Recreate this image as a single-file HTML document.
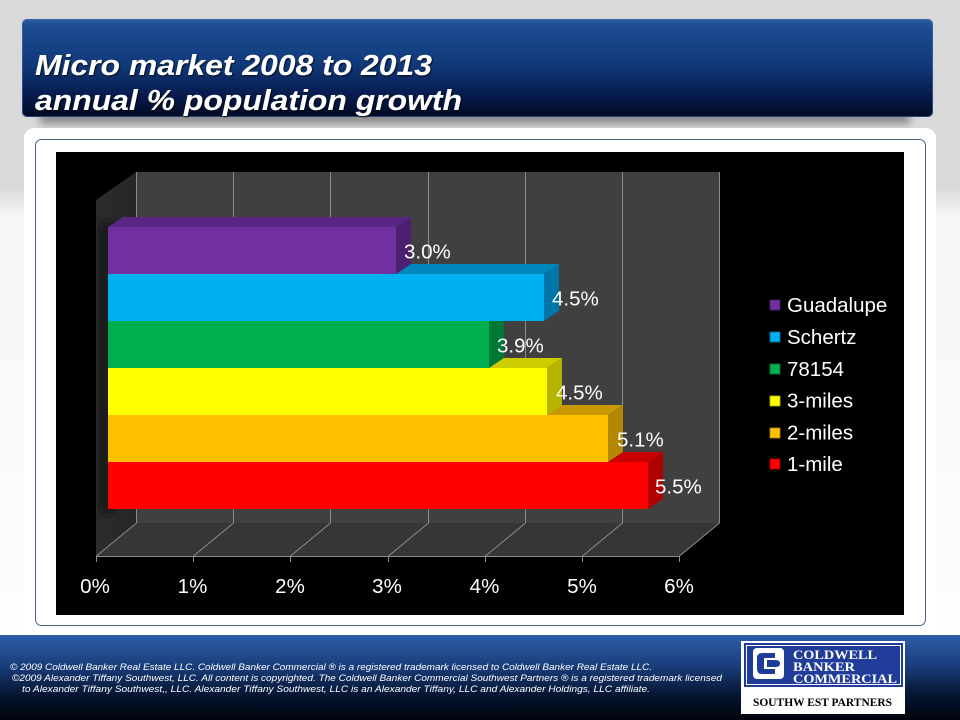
<!DOCTYPE html>
<html><head><meta charset="utf-8"><style>
html,body{margin:0;padding:0;width:960px;height:720px;overflow:hidden;background:#fff}
svg{display:block}
</style></head><body>
<svg width="960" height="720" viewBox="0 0 960 720" xmlns="http://www.w3.org/2000/svg" font-family="Liberation Sans, Arial, sans-serif">
<defs>
<linearGradient id="bg" x1="0" y1="0" x2="0" y2="1">
<stop offset="0" stop-color="#d9d9d9"/><stop offset="0.26" stop-color="#d9d9d9"/><stop offset="0.30" stop-color="#f6f6f6"/><stop offset="1" stop-color="#ffffff"/>
</linearGradient>
<linearGradient id="hdr" x1="0" y1="0" x2="0" y2="1">
<stop offset="0" stop-color="#2c5ea5"/><stop offset="0.08" stop-color="#1d4c92"/><stop offset="0.45" stop-color="#113a7a"/><stop offset="0.8" stop-color="#06194a"/><stop offset="1" stop-color="#020a22"/>
</linearGradient>
<linearGradient id="ftr" x1="0" y1="0" x2="0" y2="1">
<stop offset="0" stop-color="#2d5eaa"/><stop offset="0.35" stop-color="#1a3f7e"/><stop offset="0.7" stop-color="#061634"/><stop offset="1" stop-color="#00030a"/>
</linearGradient>
<linearGradient id="side" x1="0" y1="0" x2="1" y2="0">
<stop offset="0" stop-color="#2c2c2c"/><stop offset="1" stop-color="#262626"/>
</linearGradient>
<filter id="blur" x="-10%" y="-50%" width="120%" height="200%"><feGaussianBlur stdDeviation="4"/></filter>
<filter id="blur2" x="-20%" y="-20%" width="140%" height="140%"><feGaussianBlur stdDeviation="3"/></filter>
<filter id="ts" x="-5%" y="-20%" width="110%" height="140%"><feDropShadow dx="1" dy="1" stdDeviation="0.8" flood-color="#000" flood-opacity="0.8"/></filter>
</defs>

<!-- background -->
<rect x="0" y="0" width="960" height="720" fill="url(#bg)"/>

<!-- header shadow -->
<rect x="40" y="108" width="870" height="16" fill="#7a7a7a" opacity="0.8" filter="url(#blur)"/>
<!-- header -->
<rect x="22" y="19" width="911" height="98" rx="5" fill="url(#hdr)"/>
<rect x="22.5" y="19.5" width="910" height="97" rx="5" fill="none" stroke="#3a6ab0" stroke-width="1" opacity="0.6"/>
<g filter="url(#ts)" fill="#ffffff" font-weight="bold" font-style="italic" font-size="29">
<text x="35" y="75" textLength="397" lengthAdjust="spacingAndGlyphs">Micro market 2008 to 2013</text>
<text x="35" y="110" textLength="427" lengthAdjust="spacingAndGlyphs">annual % population growth</text>
</g>

<!-- card -->
<rect x="24" y="128" width="912" height="508" rx="10" fill="#ffffff"/>
<rect x="35.5" y="139.5" width="890" height="486" rx="6" fill="none" stroke="#4a6288" stroke-width="1"/>

<!-- chart background -->
<rect x="56" y="152" width="848" height="463" fill="#000000"/>

<!-- back wall -->
<rect x="136" y="172" width="584" height="351" fill="#404040"/>
<!-- side wall -->
<polygon points="96,200 136,172 136,523 96,556" fill="url(#side)"/>
<!-- floor -->
<polygon points="96,556 136,523 720,523 680,556" fill="#363636"/>

<!-- gridlines back wall -->
<g stroke="#8c8c8c" stroke-width="1">
<line x1="136.5" y1="172" x2="136.5" y2="523"/>
<line x1="233.5" y1="172" x2="233.5" y2="523"/>
<line x1="330.5" y1="172" x2="330.5" y2="523"/>
<line x1="428.5" y1="172" x2="428.5" y2="523"/>
<line x1="525.5" y1="172" x2="525.5" y2="523"/>
<line x1="622.5" y1="172" x2="622.5" y2="523"/>
<line x1="719.5" y1="172" x2="719.5" y2="523"/>
<!-- floor lines -->
<line x1="136.5" y1="523" x2="96.5" y2="556"/>
<line x1="233.5" y1="523" x2="193.5" y2="556"/>
<line x1="330.5" y1="523" x2="290.5" y2="556"/>
<line x1="428.5" y1="523" x2="388.5" y2="556"/>
<line x1="525.5" y1="523" x2="485.5" y2="556"/>
<line x1="622.5" y1="523" x2="582.5" y2="556"/>
<line x1="719.5" y1="523" x2="679.5" y2="556"/>
<!-- axis -->
<line x1="96" y1="556.5" x2="680" y2="556.5"/>
<line x1="96.5" y1="556" x2="96.5" y2="562"/>
<line x1="193.5" y1="556" x2="193.5" y2="562"/>
<line x1="290.5" y1="556" x2="290.5" y2="562"/>
<line x1="388.5" y1="556" x2="388.5" y2="562"/>
<line x1="485.5" y1="556" x2="485.5" y2="562"/>
<line x1="582.5" y1="556" x2="582.5" y2="562"/>
<line x1="679.5" y1="556" x2="679.5" y2="562"/>
</g>

<!-- bar shadow on side wall -->
<rect x="98" y="222" width="20" height="292" fill="#151515" opacity="0.7" filter="url(#blur2)"/>

<!-- bars (bottom to top) -->
<!-- red 1-mile -->
<polygon points="108,462 648,462 663,452 123,452" fill="#c80000"/>
<polygon points="648,462 663,452 663,499 648,509" fill="#b00000"/>
<rect x="108" y="462" width="540" height="47" fill="#ff0000"/>
<!-- orange 2-miles -->
<polygon points="108,415 608,415 623,405 123,405" fill="#c99800"/>
<polygon points="608,415 623,405 623,452 608,462" fill="#b38700"/>
<rect x="108" y="415" width="500" height="47" fill="#ffc000"/>
<!-- yellow 3-miles -->
<polygon points="108,368 547,368 562,358 123,358" fill="#cccc00"/>
<polygon points="547,368 562,358 562,405 547,415" fill="#b5b500"/>
<rect x="108" y="368" width="439" height="47" fill="#ffff00"/>
<!-- green 78154 -->
<polygon points="108,321 489,321 504,311 123,311" fill="#008a3e"/>
<polygon points="489,321 504,311 504,358 489,368" fill="#007836"/>
<rect x="108" y="321" width="381" height="47" fill="#00b050"/>
<!-- cyan Schertz -->
<polygon points="108,274 544,274 559,264 123,264" fill="#0088bd"/>
<polygon points="544,274 559,264 559,311 544,321" fill="#0076a8"/>
<rect x="108" y="274" width="436" height="47" fill="#00b0f0"/>
<!-- purple Guadalupe -->
<polygon points="108,227 396,227 411,217 123,217" fill="#5a2683"/>
<polygon points="396,227 411,217 411,264 396,274" fill="#4c1f70"/>
<rect x="108" y="227" width="288" height="47" fill="#7030a0"/>

<!-- data labels -->
<g fill="#ffffff" font-size="20.5">
<text x="404" y="258.5">3.0%</text>
<text x="552" y="305.5">4.5%</text>
<text x="497" y="352.5">3.9%</text>
<text x="556" y="399.5">4.5%</text>
<text x="617" y="446.5">5.1%</text>
<text x="655" y="493.5">5.5%</text>
</g>

<!-- tick labels -->
<g fill="#ffffff" font-size="20.5" text-anchor="middle">
<text x="95" y="593">0%</text>
<text x="192.5" y="593">1%</text>
<text x="290" y="593">2%</text>
<text x="387" y="593">3%</text>
<text x="484.5" y="593">4%</text>
<text x="582" y="593">5%</text>
<text x="679" y="593">6%</text>
</g>

<!-- legend -->
<g stroke-width="0.8">
<rect x="770" y="300" width="10" height="10" fill="#7030a0" stroke="#4c1f70"/>
<rect x="770" y="332" width="10" height="10" fill="#00b0f0" stroke="#0076a8"/>
<rect x="770" y="364" width="10" height="10" fill="#00b050" stroke="#007836"/>
<rect x="770" y="396" width="10" height="10" fill="#ffff00" stroke="#b5b500"/>
<rect x="770" y="428" width="10" height="10" fill="#ffc000" stroke="#b38700"/>
<rect x="770" y="459" width="10" height="10" fill="#ff0000" stroke="#b00000"/>
</g>
<g fill="#ffffff" font-size="20.5">
<text x="787" y="312">Guadalupe</text>
<text x="787" y="344">Schertz</text>
<text x="787" y="376">78154</text>
<text x="787" y="407.5">3-miles</text>
<text x="787" y="439.5">2-miles</text>
<text x="787" y="471">1-mile</text>
</g>

<!-- footer -->
<rect x="0" y="635" width="960" height="85" fill="url(#ftr)"/>
<g fill="#ffffff" font-style="italic" font-size="9.5">
<text x="10" y="670" textLength="642" lengthAdjust="spacingAndGlyphs">©  2009 Coldwell Banker Real Estate LLC. Coldwell Banker Commercial ® is a registered trademark licensed to Coldwell Banker Real Estate LLC.</text>
<text x="12" y="681" textLength="710" lengthAdjust="spacingAndGlyphs">©2009 Alexander Tiffany Southwest, LLC. All content is copyrighted. The Coldwell Banker Commercial Southwest Partners ® is a registered trademark licensed</text>
<text x="22" y="692" textLength="628" lengthAdjust="spacingAndGlyphs">to Alexander Tiffany Southwest,, LLC.  Alexander Tiffany Southwest, LLC is an Alexander Tiffany, LLC and Alexander Holdings, LLC affiliate.</text>
</g>

<!-- logo -->
<rect x="741" y="641" width="164" height="73" fill="#ffffff"/>
<rect x="744" y="643" width="159" height="44" fill="#1f3c98"/>
<rect x="746.5" y="645.5" width="154" height="39" fill="none" stroke="#ffffff" stroke-width="1"/>
<rect x="753" y="648" width="31" height="31" rx="4" fill="#ffffff"/>
<path d="M775,653 L762,653 Q757,653 757,658 L757,669 Q757,674 762,674 L775,674 L775,669 L764,669 L764,658 L775,658 Z" fill="#1f3c98"/>
<path d="M767,660 L776,660 Q780,660 780,663.5 Q780,667 776,667 L767,667 Z" fill="#1f3c98"/>
<g fill="#ffffff" font-family="Liberation Serif, Times New Roman, serif" font-weight="bold" font-size="12.5">
<text x="793" y="659" textLength="84" lengthAdjust="spacingAndGlyphs">COLDWELL</text>
<text x="793" y="671" textLength="62" lengthAdjust="spacingAndGlyphs">BANKER</text>
<text x="793" y="683" textLength="104" lengthAdjust="spacingAndGlyphs">COMMERCIAL</text>
</g>
<text x="753" y="706" fill="#000000" font-family="Liberation Serif, Times New Roman, serif" font-weight="bold" font-size="11.5" textLength="139" lengthAdjust="spacingAndGlyphs">SOUTHW EST PARTNERS</text>
</svg>
</body></html>
